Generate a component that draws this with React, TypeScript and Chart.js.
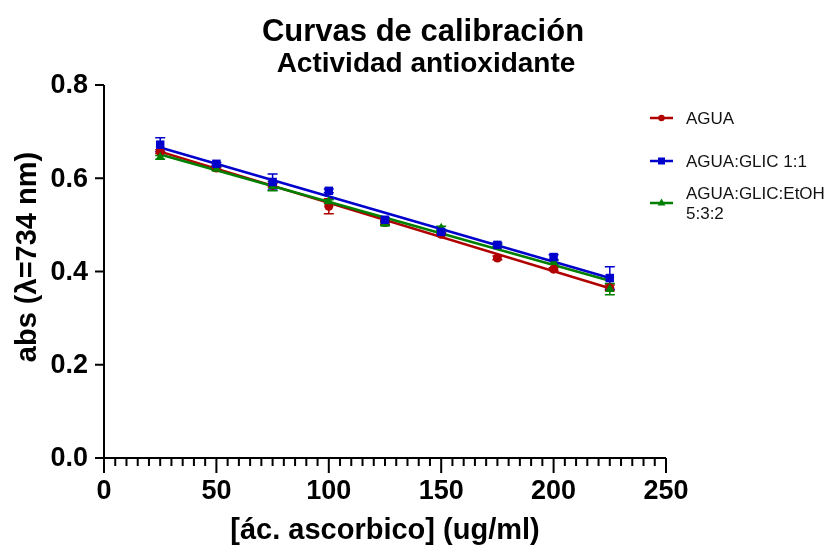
import React, { useEffect, useRef } from "react";
import { Chart, registerables } from "chart.js";
Chart.register(...registerables);

const concentrations = [25, 50, 75, 100, 125, 150, 175, 200, 225];
const absAgua = [0.657, 0.622, 0.585, 0.54, 0.505, 0.48, 0.429, 0.405, 0.365];
const absGlic = [0.672, 0.631, 0.592, 0.573, 0.511, 0.485, 0.457, 0.431, 0.386];
const absEtoh = [0.645, 0.62, 0.583, 0.55, 0.502, 0.493, 0.455, 0.42, 0.362];
const errAgua = [0.004, 0.003, 0.004, 0.016, 0.004, 0.003, 0.004, 0.003, 0.006];
const errGlic = [0.015, 0.003, 0.017, 0.004, 0.004, 0.003, 0.004, 0.005, 0.024];
const errEtoh = [0.004, 0.003, 0.01, 0.004, 0.003, 0.004, 0.003, 0.004, 0.012];
const fitX = [25, 225];
const fitAgua = [0.657, 0.364];
const fitGlic = [0.666, 0.386];
const fitEtoh = [0.651, 0.38];
const xTicks = [0, 50, 100, 150, 200, 250];
const yTicks = [0, 0.2, 0.4, 0.6, 0.8];
const seriesNames = ["AGUA", "AGUA:GLIC 1:1", "AGUA:GLIC:EtOH\n5:3:2"];

const RED = "#B00000";
const BLUE = "#0000CC";
const GREEN = "#008000";
const FONT = "'Liberation Sans', Arial, sans-serif";

const pts = (ys: number[]) => concentrations.map((x, i) => ({ x, y: ys[i] }));
const fit = (ys: number[]) => fitX.map((x, i) => ({ x, y: ys[i] }));

export default function App() {
  const ref = useRef<HTMLCanvasElement>(null);
  useEffect(() => {
    if (!ref.current) return;
    const errSets = [
      { ys: absAgua, es: errAgua, c: RED },
      { ys: absGlic, es: errGlic, c: BLUE },
      { ys: absEtoh, es: errEtoh, c: GREEN },
    ];
    const decor = {
      id: "decor",
      beforeDatasetsDraw(chart: any) {
        const ctx = chart.ctx;
        const xs = chart.scales.x;
        const ys = chart.scales.y;
        ctx.save();
        ctx.lineWidth = 1.5;
        errSets.forEach((s) => {
          ctx.strokeStyle = s.c;
          concentrations.forEach((x, i) => {
            const px = xs.getPixelForValue(x);
            const t = ys.getPixelForValue(s.ys[i] + s.es[i]);
            const b = ys.getPixelForValue(s.ys[i] - s.es[i]);
            ctx.beginPath();
            ctx.moveTo(px, t);
            ctx.lineTo(px, b);
            ctx.moveTo(px - 5, t);
            ctx.lineTo(px + 5, t);
            ctx.moveTo(px - 5, b);
            ctx.lineTo(px + 5, b);
            ctx.stroke();
          });
        });
        ctx.restore();
      },
      afterDraw(chart: any) {
        const ctx = chart.ctx;
        const xs = chart.scales.x;
        const ys = chart.scales.y;
        const x0 = xs.getPixelForValue(0);
        const x1 = xs.getPixelForValue(250);
        const y0 = ys.getPixelForValue(0);
        const y1 = ys.getPixelForValue(0.8);
        ctx.save();
        ctx.strokeStyle = "#000";
        ctx.fillStyle = "#000";
        ctx.lineWidth = 2;
        ctx.beginPath();
        ctx.moveTo(x0, y1);
        ctx.lineTo(x0, y0);
        ctx.moveTo(x0 - 9, y0);
        ctx.lineTo(x1, y0);
        ctx.stroke();
        ctx.beginPath();
        yTicks.forEach((v) => {
          const py = ys.getPixelForValue(v);
          ctx.moveTo(x0 - 9, py);
          ctx.lineTo(x0, py);
        });
        ctx.stroke();
        ctx.beginPath();
        for (let v = 0; v <= 250; v += 5) {
          const px = xs.getPixelForValue(v);
          const len = v % 50 === 0 ? 15 : 8;
          ctx.moveTo(px, y0);
          ctx.lineTo(px, y0 + len);
        }
        ctx.stroke();
        ctx.font = `bold 27px ${FONT}`;
        ctx.textAlign = "right";
        ctx.textBaseline = "middle";
        yTicks.forEach((v) => {
          ctx.fillText(v.toFixed(1), x0 - 16, ys.getPixelForValue(v) + 1);
        });
        ctx.textAlign = "center";
        xTicks.forEach((v) => {
          ctx.fillText(String(v), xs.getPixelForValue(v), y0 + 34);
        });
        ctx.font = `bold 29px ${FONT}`;
        ctx.fillText("[ác. ascorbico] (ug/ml)", (x0 + x1) / 2, 531);
        ctx.save();
        ctx.translate(28, 257);
        ctx.rotate(-Math.PI / 2);
        ctx.fillText("abs (λ=734 nm)", 0, 0);
        ctx.restore();
        ctx.font = `bold 31px ${FONT}`;
        ctx.fillText("Curvas de calibración", 423, 32);
        ctx.font = `bold 28px ${FONT}`;
        ctx.fillText("Actividad antioxidante", 426, 64);
        const leg = [
          { c: RED, s: "circle", y: 118 },
          { c: BLUE, s: "rect", y: 161 },
          { c: GREEN, s: "triangle", y: 203 },
        ];
        ctx.font = `17px ${FONT}`;
        ctx.textAlign = "left";
        leg.forEach((l, i) => {
          ctx.strokeStyle = l.c;
          ctx.fillStyle = l.c;
          ctx.lineWidth = 2.5;
          ctx.beginPath();
          ctx.moveTo(650, l.y);
          ctx.lineTo(673, l.y);
          ctx.stroke();
          ctx.beginPath();
          if (l.s === "circle") ctx.arc(661.5, l.y, 3.2, 0, Math.PI * 2);
          else if (l.s === "rect") ctx.rect(658, l.y - 3.5, 7, 7);
          else {
            ctx.moveTo(661.5, l.y - 4.5);
            ctx.lineTo(665.5, l.y + 2.5);
            ctx.lineTo(657.5, l.y + 2.5);
            ctx.closePath();
          }
          ctx.fill();
          ctx.fillStyle = "#111";
          const lines = seriesNames[i].split("\n");
          if (lines.length === 1) ctx.fillText(lines[0], 686, l.y + 1);
          else {
            ctx.fillText(lines[0], 686, l.y - 9);
            ctx.fillText(lines[1], 686, l.y + 11);
          }
        });
        ctx.restore();
      },
    };
    const chart = new Chart(ref.current, {
      type: "scatter",
      data: {
        datasets: [
          { label: "fitAgua", data: fit(fitAgua), showLine: true, borderColor: RED, borderWidth: 2.5, pointRadius: 0, order: 5 },
          { label: "fitEtoh", data: fit(fitEtoh), showLine: true, borderColor: GREEN, borderWidth: 2.5, pointRadius: 0, order: 4 },
          { label: "fitGlic", data: fit(fitGlic), showLine: true, borderColor: BLUE, borderWidth: 2.5, pointRadius: 0, order: 3 },
          { label: seriesNames[0], data: pts(absAgua), pointStyle: "circle", pointRadius: 4.5, backgroundColor: RED, borderColor: RED, borderWidth: 0, order: 2 },
          { label: seriesNames[2], data: pts(absEtoh), pointStyle: "triangle", pointRadius: 5.5, backgroundColor: GREEN, borderColor: GREEN, borderWidth: 0, order: 1 },
          { label: seriesNames[1], data: pts(absGlic), pointStyle: "rect", pointRadius: 6, backgroundColor: BLUE, borderColor: BLUE, borderWidth: 0, order: 0 },
        ],
      },
      options: {
        responsive: false,
        animation: false,
        layout: { padding: { left: 104, right: 162, top: 85, bottom: 91 } },
        plugins: { legend: { display: false }, title: { display: false }, tooltip: { enabled: false } },
        scales: {
          x: { type: "linear", min: 0, max: 250, display: false },
          y: { type: "linear", min: 0, max: 0.8, display: false },
        },
      },
      plugins: [decor],
    });
    return () => chart.destroy();
  }, []);
  return (
    <canvas
      ref={ref}
      width={828}
      height={549}
      style={{ display: "block", position: "absolute", left: 0, top: 0, background: "#fff" }}
    />
  );
}
